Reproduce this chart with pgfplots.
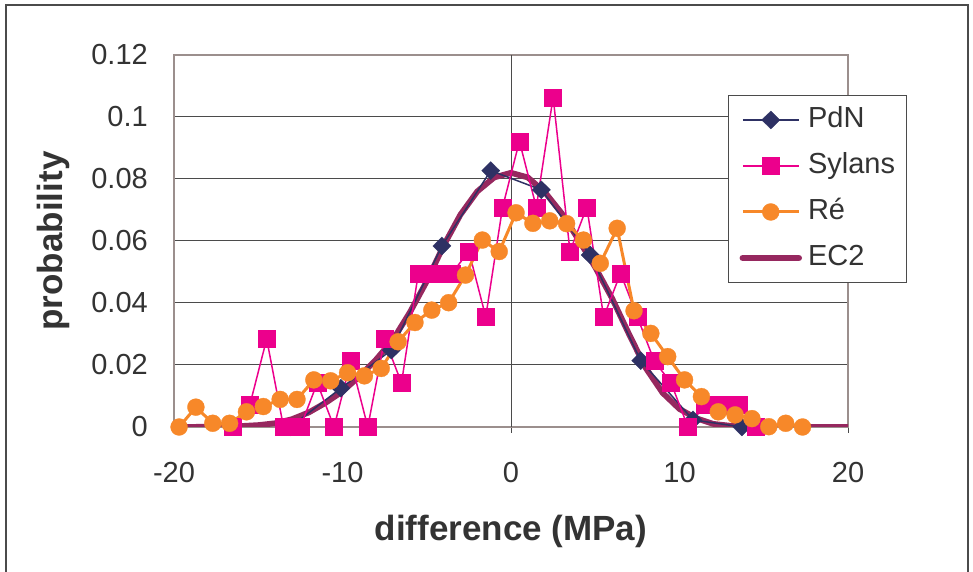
\documentclass[border=0pt]{standalone}
\usepackage{fontspec}
\setmainfont{Liberation Sans}
\usepackage{pgfplots}
\pgfplotsset{compat=1.18}
\definecolor{pdn}{RGB}{46,49,100}
\definecolor{syl}{RGB}{236,0,140}
\definecolor{re}{RGB}{247,136,41}
\definecolor{ec}{RGB}{150,40,95}
\definecolor{gridc}{RGB}{75,75,75}
\definecolor{framec}{RGB}{155,143,141}
\definecolor{txt}{RGB}{51,51,51}

\pgfplotstableread{
x y
-13.1 0
-10.1 0.0125
-7.1 0.0248
-4.1 0.0584
-1.2 0.0827
1.8 0.0765
4.7 0.0555
7.7 0.0214
10.8 0.0023
13.7 0
}\pdntable

\pgfplotstableread{
x y
-16.5 0
-15.5 0.0071
-14.5 0.0284
-13.5 0
-12.5 0
-11.5 0.0142
-10.5 0
-9.5 0.0213
-8.5 0
-7.5 0.0284
-6.5 0.0142
-5.5 0.0496
-4.5 0.0496
-3.5 0.0496
-2.5 0.0567
-1.5 0.0355
-0.5 0.0709
0.5 0.0922
1.5 0.0709
2.5 0.1064
3.5 0.0567
4.5 0.0709
5.5 0.0355
6.5 0.0496
7.5 0.0355
8.5 0.0213
9.5 0.0142
10.5 0
11.5 0.0071
12.5 0.0071
13.5 0.0071
14.5 0
}\syltable

\pgfplotstableread{
x y
-19.7 0
-18.7 0.0064
-17.7 0.0012
-16.7 0.0012
-15.7 0.0049
-14.7 0.0066
-13.7 0.0089
-12.7 0.0089
-11.7 0.0152
-10.7 0.0149
-9.7 0.0175
-8.7 0.0165
-7.7 0.0189
-6.7 0.0275
-5.7 0.0337
-4.7 0.0377
-3.7 0.0401
-2.7 0.0490
-1.7 0.0603
-0.7 0.0566
0.3 0.0691
1.3 0.0657
2.3 0.0665
3.3 0.0656
4.3 0.0603
5.3 0.0528
6.3 0.0641
7.3 0.0375
8.3 0.0302
9.3 0.0227
10.3 0.0152
11.3 0.0098
12.3 0.0049
13.3 0.0039
14.3 0.0027
15.3 0.0001
16.3 0.0012
17.3 0
}\retable

\pgfplotstableread{
x y
-20 0
-19 0
-18 0.0001
-17 0.0002
-16 0.0003
-15 0.0006
-14 0.0012
-13 0.0025
-12 0.0047
-11 0.0078
-10 0.0115
-9 0.0163
-8 0.0218
-7 0.0282
-6 0.0370
-5 0.0470
-4 0.0585
-3 0.0685
-2 0.0760
-1 0.0805
0 0.0820
1 0.0805
2 0.0758
3 0.0690
4 0.0605
5 0.0515
6 0.0415
7 0.0300
8 0.0190
9 0.0110
10 0.0058
11 0.0028
12 0.0010
13 0.0004
14 0.0001
15 0
20 0
}\ectable

\begin{document}
\begin{tikzpicture}[x=1pt,y=1pt]
\useasboundingbox (0,0) rectangle (973,572);
\draw[color=gridc, line width=1.2pt] (6,0) -- (6,567) -- (968,567) -- (968,0);
\begin{axis}[
  at={(174pt,145pt)}, anchor=south west,
  scale only axis, width=674pt, height=372pt,
  xmin=-20, xmax=20, ymin=0, ymax=0.12,
  xtick={-20,-10,0,10,20}, xticklabels={-20,-10,0,10,20},
  ytick={0,0.02,0.04,0.06,0.08,0.1,0.12},
  yticklabels={0,0.02,0.04,0.06,0.08,0.1,0.12},
  ymajorgrids, grid style={gridc, line width=1pt},
  axis line style={framec, line width=1.2pt},
  tick pos=left, tick align=outside, major tick length=6pt,
  xtick style={gridc, line width=1pt},
  ytick style={draw=none},
  ticklabel style={font=\fontsize{29}{29}\selectfont, text=txt, inner sep=0pt},
  xticklabel style={yshift=-29pt},
  yticklabel style={xshift=-20pt},
  xlabel={difference (MPa)},
  xlabel style={font=\fontsize{35}{35}\selectfont\bfseries, text=txt, inner sep=0pt,
    at={(axis description cs:0.5,-0.2366)}, anchor=north},
  ylabel={probability},
  ylabel style={font=\fontsize{35}{35}\selectfont\bfseries, text=txt, inner sep=0pt,
    at={(axis description cs:-0.1543,0.5)}, anchor=south},
  legend style={at={(rel axis cs:0.822,0.8925)}, anchor=north west,
    draw=gridc, line width=1pt, fill=white,
    font=\fontsize{29}{29}\selectfont, text=txt,
    inner xsep=11pt, inner ysep=11pt, row sep=19pt, column sep=6pt,
    nodes={inner sep=0pt, text height=21pt, text depth=6pt},
    cells={anchor=west}},
  legend image code/.code={\draw[mark repeat=2,mark phase=2,#1] plot coordinates {(0pt,0pt) (28pt,0pt) (56pt,0pt)};},
]
\draw[gridc, line width=1pt] (axis cs:0,0) -- (axis cs:0,0.12);
\pgfplotsinvokeforeach{0.02,0.04,0.06,0.08,0.1}{\draw[gridc, line width=1pt] (axis cs:0,#1) -- ++(-6pt,0pt);}
\addplot[ec, line width=5.8pt, line join=round, line cap=round, forget plot] table {\ectable};
\addplot[pdn, line width=1.5pt, mark=diamond*, mark size=9pt, mark options={solid, fill=pdn, line width=0.3pt, xscale=1.35}] table {\pdntable};
\addlegendentry{PdN}
\addplot[syl, line width=1.5pt, mark=square*, mark size=8.5pt, mark options={solid, fill=syl, line width=0.3pt}] table {\syltable};
\addlegendentry{Sylans}
\addplot[re, line width=3pt, mark=*, mark size=8.5pt, mark options={solid, fill=re, line width=0.3pt}] table {\retable};
\addlegendentry{Ré}
\addlegendimage{ec, line width=6.5pt, line cap=round}
\addlegendentry{EC2}
\end{axis}
\end{tikzpicture}
\end{document}
